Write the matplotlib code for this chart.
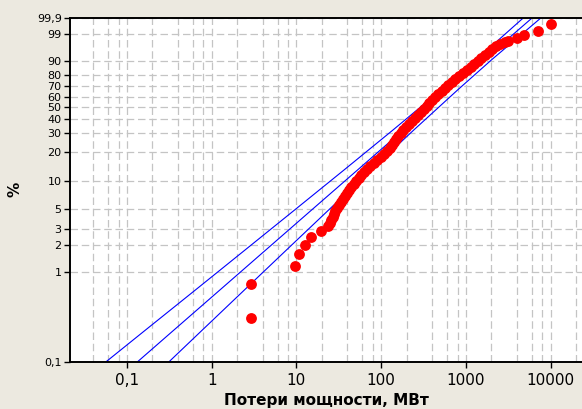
import numpy as np
import matplotlib
matplotlib.use("Agg")
import matplotlib.pyplot as plt
from matplotlib.ticker import LogLocator, NullLocator, NullFormatter

# losses (MW) and cumulative probability (%)
loss_mw = [2.9, 2.9, 9.6, 10.7, 12.6, 14.9, 19.5, 23.6, 24.9, 25.6,
           27.0, 27.7, 28.5, 30.1, 31.8, 33.6, 35.4, 37.4, 39.5, 41.7,
           44.0, 47.8, 50.4, 54.7, 57.8, 62.7, 68.0, 73.8, 82.2, 89.2,
           99.4, 108, 117, 127, 134, 142, 149, 158, 171, 181,
           196, 213, 231, 251, 272, 295, 320, 347, 367, 397,
           431, 468, 522, 566, 614, 685, 743, 828, 923, 1029,
           1147, 1245, 1388, 1506, 1678, 1871, 2030, 2263, 2523, 2890,
           3136, 4004, 4842, 7085, 10080]
cum_pct = [0.31, 0.74, 1.17, 1.59, 2.0, 2.46, 2.86, 3.24, 3.5, 3.78,
           4.08, 4.4, 4.74, 5.11, 5.50, 5.93, 6.39, 6.88, 7.42, 7.99,
           8.6, 9.26, 9.97, 10.73, 11.53, 12.4, 13.32, 14.3, 15.35, 16.48,
           17.7, 18.97, 20.3, 21.75, 23.26, 24.9, 26.6, 28.4, 30.3, 32.26,
           34.3, 36.5, 38.8, 41.2, 43.6, 46.1, 48.7, 51.4, 54.1, 56.9,
           59.7, 62.6, 65.4, 68.2, 71.0, 73.8, 76.4, 79.0, 81.5, 83.8,
           86.0, 88.0, 89.9, 91.6, 93.1, 94.5, 95.6, 96.6, 97.2, 97.7,
           97.9, 98.4, 98.86, 99.30, 99.74]

# fitted Weibull line and its confidence bounds
fit_pct = [0.1, 0.222, 0.686, 1.765, 4.86, 13.0, 32.26, 66.34, 90.52, 99.9]
fit_mid = [0.1325, 0.3485, 1.374, 4.348, 15.13, 52.67, 183.3, 637.9, 1624, 6018]
fit_upper = [0.0563, 0.1606, 0.712, 2.478, 9.536, 36.5, 138.2, 509.1, 1318, 4737]
fit_lower = [0.3118, 0.7557, 2.652, 7.63, 24.02, 75.99, 243.1, 799.1, 2002, 7643]

y_ticks = [0.1, 1, 2, 3, 5, 10, 20, 30, 40, 50, 60, 70, 80, 90, 99, 99.9]
y_labels = ["0,1", "1", "2", "3", "5", "10", "20", "30", "40", "50",
            "60", "70", "80", "90", "99", "99,9"]
x_ticks = [0.1, 1, 10, 100, 1000, 10000]
x_labels = ["0,1", "1", "10", "100", "1000", "10000"]


def weibull_fwd(p):
    p = np.clip(np.asarray(p, dtype=float), 1e-7, 100 - 1e-7)
    return np.log(-np.log(1 - p / 100.0))


def weibull_inv(w):
    return 100.0 * (1 - np.exp(-np.exp(np.asarray(w, dtype=float))))


BG = "#ece9e0"
GRID = "#c4c4c4"

fig = plt.figure(figsize=(5.82, 4.09), dpi=100, facecolor=BG)
ax = fig.add_axes([70 / 582, 47 / 409, 512 / 582, 344 / 409])
ax.set_facecolor("white")

ax.set_xscale("log")
ax.set_yscale("function", functions=(weibull_fwd, weibull_inv))
ax.set_xlim(0.0213, 23400)
ax.set_ylim(0.1, 99.9)

for xs in (fit_upper, fit_mid, fit_lower):
    ax.plot(xs, fit_pct, color="blue", lw=0.8, zorder=2)

ax.plot(loss_mw, cum_pct, "o", color="red", ms=7.8, mec="none", zorder=3)

ax.set_xticks(x_ticks, x_labels)
ax.xaxis.set_minor_locator(LogLocator(base=10, subs=(2, 4, 6, 8)))
ax.xaxis.set_minor_formatter(NullFormatter())
ax.set_yticks(y_ticks, y_labels)
ax.yaxis.set_minor_locator(NullLocator())

ax.set_axisbelow(True)
ax.grid(True, which="both", axis="x", color=GRID, lw=0.9, ls=(0, (6, 3)))
ax.grid(True, which="major", axis="y", color=GRID, lw=0.9, ls=(0, (6, 3)))

for side in ("left", "bottom", "top"):
    ax.spines[side].set_linewidth(1.4)
    ax.spines[side].set_color("black")
ax.spines["right"].set_visible(False)

ax.tick_params(axis="x", which="major", direction="out", length=4, width=1,
               labelsize=11, pad=4)
ax.tick_params(axis="x", which="minor", length=0)
ax.tick_params(axis="y", direction="out", length=4, width=1, labelsize=8, pad=2)

ax.set_xlabel("Потери мощности, МВт", fontsize=11, fontweight="bold")
ax.xaxis.set_label_coords(0.5, -0.113)
ax.xaxis.label.set_verticalalignment("center")
ax.set_ylabel("%", fontsize=11, fontweight="bold")
ax.yaxis.set_label_coords(-0.107, 0.503)
ax.yaxis.label.set_verticalalignment("center")

fig.savefig("out.png", dpi=100, facecolor=BG)
